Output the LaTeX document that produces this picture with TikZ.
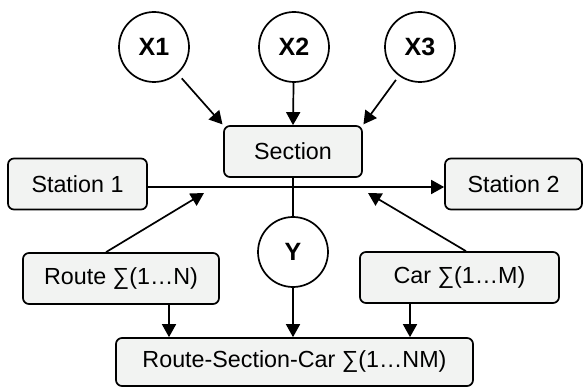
\documentclass[tikz,border=0pt]{standalone}
\usepackage{fontspec}
\setmainfont{Liberation Sans}
\usetikzlibrary{arrows.meta}
\definecolor{boxfill}{HTML}{F2F3F2}
\begin{document}
\begin{tikzpicture}[x=1pt,y=-1pt,
  every node/.style={font=\fontsize{23.3}{27}\selectfont, inner sep=0pt},
  box/.style={draw, line width=1.7pt, rounded corners=6pt, fill=boxfill, minimum height=51pt},
  var/.style={draw, circle, line width=1.7pt, minimum size=70pt, font=\fontsize{25}{29}\selectfont\bfseries},
  conn/.style={line width=1.7pt},
  arr/.style={conn, -{Triangle[length=13pt,width=14pt]}}
]
\useasboundingbox (0,0) rectangle (583,387);
\node[var] (x1) at (154,47) {X1};
\node[var] (x2) at (294,47) {X2};
\node[var] (x3) at (420,47) {X3};
\node[box, minimum width=138pt] (sec) at (293,151.5) {Section};
\node[box, minimum width=139pt] (st1) at (77.5,184) {Station 1};
\node[box, minimum width=137pt] (st2) at (513.5,184) {Station 2};
\node[var] (y) at (293,252) {Y};
\node[box, minimum width=196pt] (route) at (121,278.5) {Route ∑(1…N)};
\node[box, minimum width=199pt] (car) at (459.5,277.5) {Car ∑(1…M)};
\node[box, minimum width=357pt, minimum height=48pt] (rsc) at (294.5,362) {Route-Section-Car ∑(1…NM)};

\coordinate (hl) at (293,187);
\coordinate (rt) at (204,193);
\coordinate (ct) at (368,193);

\draw[arr, shorten <=6pt, shorten >=1pt] (x1) -- (sec.north west);
\draw[arr] (x2) -- (sec.north);
\draw[arr, shorten <=5pt, shorten >=1pt] (x3) -- (sec.north east);
\draw[arr] (st1.east |- hl) -- (st2.west |- hl);
\draw[conn] (sec.south) -- (y.north);
\draw[arr] (route.north -| 106,0) -- (rt);
\draw[arr] (car.north -| 466,0) -- (ct);
\draw[arr] (route.south -| 169,0) -- (rsc.north -| 169,0);
\draw[arr] (y.south) -- (rsc.north -| y);
\draw[arr] (car.south -| 410,0) -- (rsc.north -| 410,0);
\end{tikzpicture}
\end{document}
